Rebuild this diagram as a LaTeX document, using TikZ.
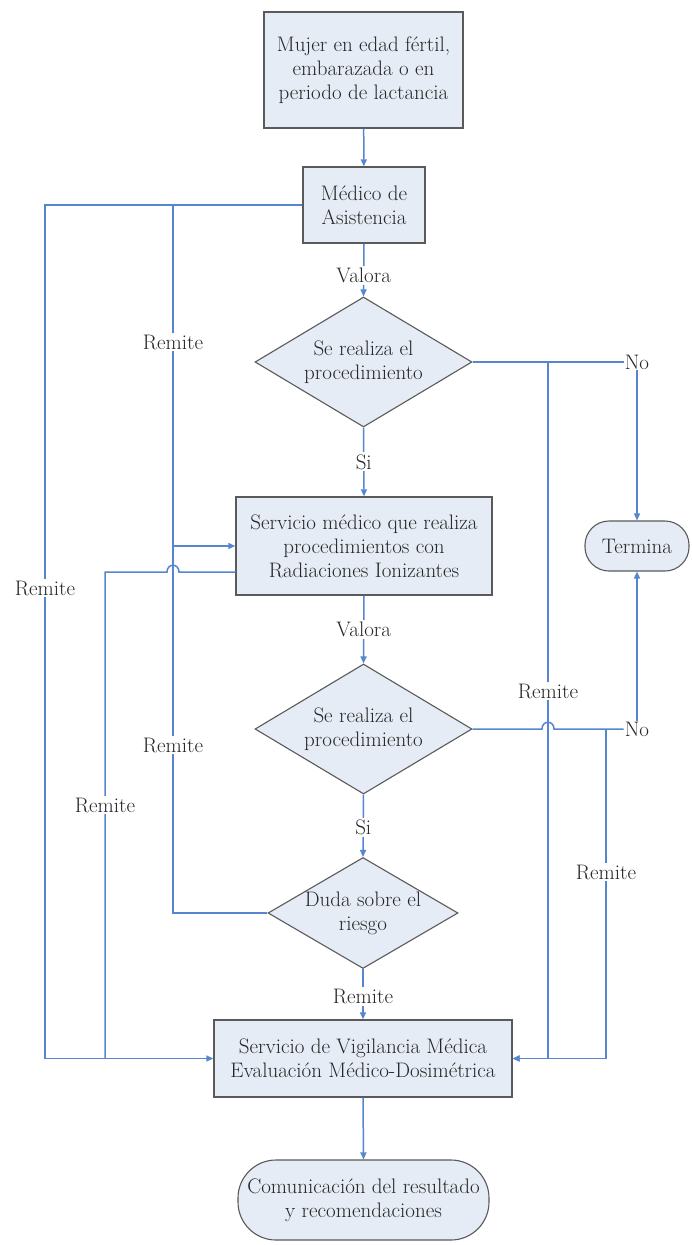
\documentclass[tikz,border=0pt]{standalone}
\usetikzlibrary{shapes.geometric,arrows.meta,calc}
\definecolor{lineblue}{RGB}{86,134,206}
\definecolor{boxfill}{RGB}{230,236,246}
\definecolor{boxdraw}{RGB}{90,90,90}
\definecolor{txt}{RGB}{38,38,38}
\begin{document}
\begin{tikzpicture}[x=1pt,y=-1pt,
  every node/.style={font=\rmfamily\fontsize{21}{24}\selectfont, text=txt},
  procbox/.style={draw=boxdraw, line width=1.4pt, fill=boxfill, align=center, inner sep=0pt},
  decis/.style={diamond, draw=boxdraw, line width=1.1pt, fill=boxfill, align=center, inner sep=0pt},
  termbox/.style={draw=boxdraw, line width=1.1pt, fill=boxfill, align=center, inner sep=0pt},
  conn/.style={draw=lineblue, line width=1.5pt},
  arr/.style={conn, -{Triangle[length=7pt,width=6pt]}},
  lbl/.style={fill=white, inner sep=2pt}
]
\useasboundingbox (0,0) rectangle (691,1245);
\fill[white] (0,0) rectangle (691,1245);

% nodes
\node[procbox, minimum width=199pt, minimum height=116pt] (top) at (363.5,70)
  {Mujer en edad fértil,\\embarazada o en\\periodo de lactancia};
\node[procbox, minimum width=122pt, minimum height=76pt] (med) at (364,205)
  {Médico de\\Asistencia};
\node[decis, minimum width=217pt, minimum height=130pt, aspect=1.67] (d1) at (363.5,362)
  {Se realiza el\\procedimiento};
\node[procbox, minimum width=256pt, minimum height=98pt] (serv) at (364,546)
  {Servicio médico que realiza\\procedimientos con\\Radiaciones Ionizantes};
\node[decis, minimum width=217pt, minimum height=130pt, aspect=1.67] (d2) at (363.5,729)
  {Se realiza el\\procedimiento};
\node[decis, minimum width=190pt, minimum height=111pt, aspect=1.71] (d3) at (363,913)
  {Duda sobre el\\riesgo};
\node[procbox, minimum width=298pt, minimum height=77pt] (vig) at (363,1058.5)
  {Servicio de Vigilancia Médica\\Evaluación Médico-Dosimétrica};
\node[termbox, rounded corners=38pt, minimum width=251pt, minimum height=80pt] (com) at (363.5,1200)
  {Comunicación del resultado\\y recomendaciones};
\node[termbox, rounded corners=24pt, minimum width=104pt, minimum height=50pt] (term) at (637,546)
  {Termina};
\node[inner sep=1pt] (no1) at (637,362) {No};
\node[inner sep=1pt] (no2) at (637,729) {No};

% coordinates
\coordinate (jA) at (173,205);
\coordinate (jC) at (173,546);
\coordinate (cL) at (45,600);
\coordinate (hA) at (179,572);
\coordinate (hB) at (167,572);
\coordinate (cLL) at (105,572);
\coordinate (jR1) at (548,362);
\coordinate (hC) at (542,729);
\coordinate (hD) at (554,729);
\coordinate (jR2) at (606,729);

% main vertical flow
\draw[arr] (top) -- (med);
\draw[arr] (med.south) -- node[lbl,pos=0.6] (va1) {Valora} (d1.north);
\draw[arr] (d1.south) -- node[lbl,pos=0.5] (si1) {Si} (serv.north);
\draw[arr] (serv.south) -- node[lbl,pos=0.5] (va2) {Valora} (d2.north);
\draw[arr] (d2.south) -- node[lbl,pos=0.52] (si2) {Si} (d3.north);
\draw[arr] (d3.south) -- node[lbl,pos=0.54] (re7) {Remite} (vig.north);
\draw[arr] (vig.south) -- (com.north);

% left side
\draw[arr] (med.west) -| (cL) |- (vig.west);
\draw[conn] (jA) |- (d3.west);
\draw[arr] (jC) -- (serv.west);
\draw[conn] ([yshift=-26pt]serv.west) -- (hA) .. controls +(0,-9) and +(0,-9) .. (hB) -- (cLL) -- (cLL |- vig.west);

% right side
\draw[conn] (d1.east) -- (no1.west);
\draw[arr] (no1.south) -- (term.north);
\draw[arr] (jR1) |- (vig.east);
\draw[conn] (d2.east) -- (hC) .. controls +(0,-9) and +(0,-9) .. (hD) -- (no2.west);
\draw[arr] (no2.north) -- (term.south);
\draw[arr] (jR2) |- (vig.east);

% labels
\node[lbl] (r1) at (173,342) {Remite};
\node[lbl] (r2) at (173,745) {Remite};
\node[lbl] (r3) at (45,588) {Remite};
\node[lbl] (r4) at (105,805) {Remite};
\node[lbl] (r5) at (548,691) {Remite};
\node[lbl] (r6) at (606,872) {Remite};
\end{tikzpicture}
\end{document}
